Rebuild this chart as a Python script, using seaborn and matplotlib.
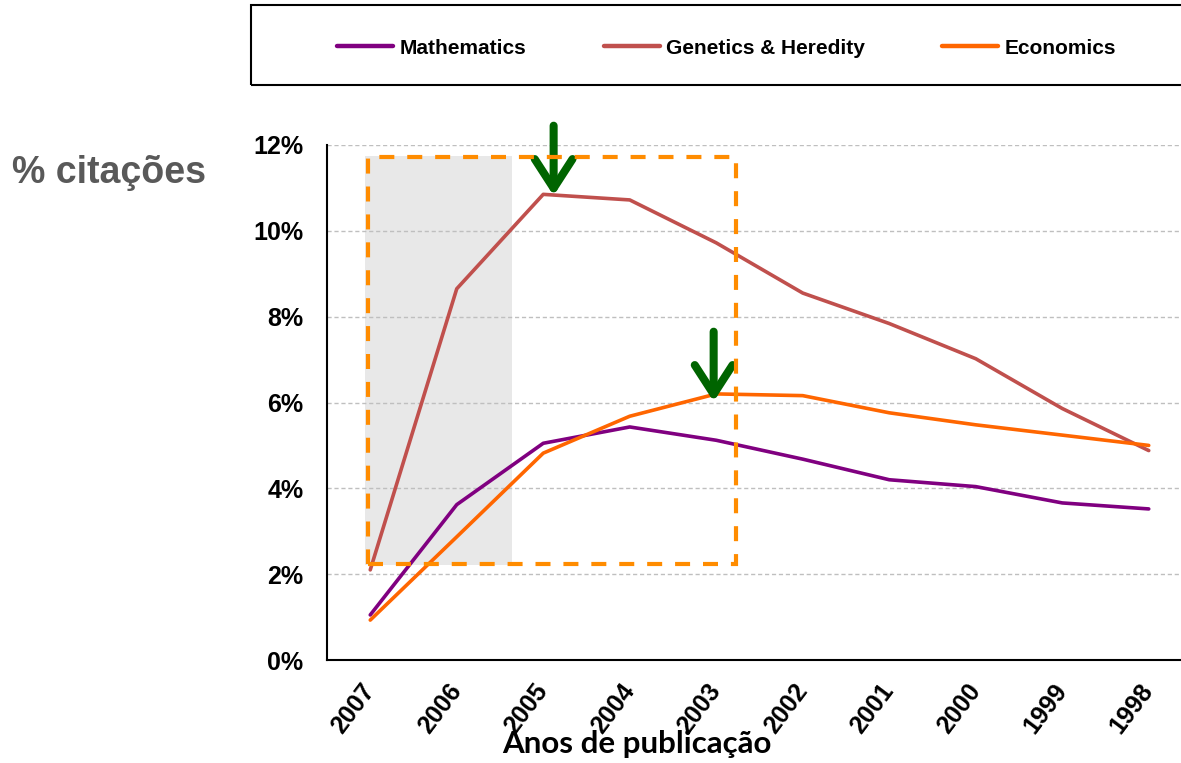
import matplotlib
matplotlib.use("Agg")
import matplotlib.pyplot as plt
import seaborn as sns
import pandas as pd
from matplotlib.patches import Rectangle
from matplotlib.lines import Line2D
from matplotlib.ticker import FixedLocator

# ---- data ----
years = ["2007", "2006", "2005", "2004", "2003", "2002", "2001", "2000", "1999", "1998"]
mathematics = [1.05, 3.62, 5.05, 5.43, 5.12, 4.68, 4.20, 4.04, 3.66, 3.52]
genetics = [2.10, 8.65, 10.85, 10.72, 9.72, 8.55, 7.84, 7.02, 5.86, 4.88]
economics = [0.93, 2.87, 4.82, 5.68, 6.20, 6.16, 5.76, 5.48, 5.24, 5.00]
series_names = ["Mathematics", "Genetics & Heredity", "Economics"]
y_ticks = [0, 2, 4, 6, 8, 10, 12]
colors = {"Mathematics": "#800080", "Genetics & Heredity": "#C0504D", "Economics": "#FF6600"}

rows = []
for name, vals in zip(series_names, [mathematics, genetics, economics]):
    for y, v in zip(years, vals):
        rows.append({"year": y, "value": v, "series": name})
df = pd.DataFrame(rows)

sns.set_style("white")
plt.rcParams['font.family'] = ['Liberation Sans', 'DejaVu Sans']
plt.rcParams['text.color'] = 'black'
plt.rcParams['xtick.color'] = 'black'
plt.rcParams['ytick.color'] = 'black'

W, H = 1181, 763
fig = plt.figure(figsize=(W / 100, H / 100), dpi=100)
ax = fig.add_axes([327 / W, 1 - 660 / H, (1192 - 327) / W, (660 - 145) / H])

# highlighted region (behind lines)
ax.add_patch(Rectangle((-0.06, 2.22), 1.70, 11.75 - 2.22, facecolor="#E8E8E8",
                       edgecolor="none", zorder=0))

for yv in y_ticks[1:]:
    ax.axhline(yv, color="#BFBFBF", lw=1.0, ls=(0, (3, 2)), zorder=0.5)

sns.lineplot(data=df, x="year", y="value", hue="series", palette=colors,
             hue_order=series_names, sort=False, lw=2.6, ax=ax, legend=False, zorder=3)

ax.add_patch(Rectangle((-0.03, 2.24), 4.26, 11.72 - 2.24, fill=False,
                       edgecolor="#FF8C00", lw=3.0, ls=(0, (3.6, 3.1)), zorder=4))

# arrows
arrow_kw = dict(arrowstyle="->,head_length=1.05,head_width=0.68", lw=5.8, color="#006400",
                shrinkA=0, shrinkB=0, mutation_scale=20, capstyle="round")
ax.annotate("", xy=(2.12, 10.82), xytext=(2.12, 12.45), arrowprops=arrow_kw,
            annotation_clip=False)
ax.annotate("", xy=(3.97, 6.02), xytext=(3.97, 7.65), arrowprops=arrow_kw,
            annotation_clip=False)

ax.set_xlim(-0.5, 9.5)
ax.set_ylim(0, 12)
ax.set_yticks(y_ticks)
ax.set_yticklabels([f"{t}%" for t in y_ticks], fontsize=18, fontweight="bold", color="black")
ax.set_xticks(range(len(years)))
ax.set_xticklabels(years, fontsize=18, fontweight="bold", rotation=53, color="black",
                   ha="right", va="center", rotation_mode="anchor")
ax.xaxis.set_minor_locator(FixedLocator([i - 0.5 for i in range(len(years) + 1)]))
ax.tick_params(axis="x", which="major", length=0, pad=19)
ax.tick_params(axis="x", which="minor", length=7, width=1.5, direction="out", color="black")
ax.tick_params(axis="y", length=6, width=1.5, direction="out", color="black", pad=11)
ax.set_xlabel("")
ax.set_ylabel("")
for s in ["top", "right"]:
    ax.spines[s].set_visible(False)
for s in ["left", "bottom"]:
    ax.spines[s].set_color("black")
    ax.spines[s].set_linewidth(1.5)

# legend box
fig.add_artist(Rectangle((251 / W, 1 - 85 / H), (1200 - 251) / W, 80 / H, transform=fig.transFigure,
                         fill=False, edgecolor="black", lw=1.5))
leg_x = [337, 604, 942]
for name, x in zip(series_names, leg_x):
    h = Line2D([], [], color=colors[name], lw=3.2)
    fig.legend(handles=[h], labels=[name], loc="center left",
               bbox_to_anchor=(x / W, 1 - 48 / H), frameon=False, handlelength=2.7,
               handletextpad=0.3, borderpad=0, borderaxespad=0, labelcolor="black",
               prop={"size": 15, "weight": "bold"})

fig.text(12 / W, 1 - 173 / H, "% citações", fontsize=27, fontweight="bold",
         color="#595959", ha="left", va="center")
fig.text(637 / W, 1 - 753 / H, "Anos de publicação", fontsize=22.5, fontweight="bold",
         family=["Lato", "DejaVu Sans"], color="black", ha="center", va="baseline")

fig.savefig("out.png", dpi=100)
